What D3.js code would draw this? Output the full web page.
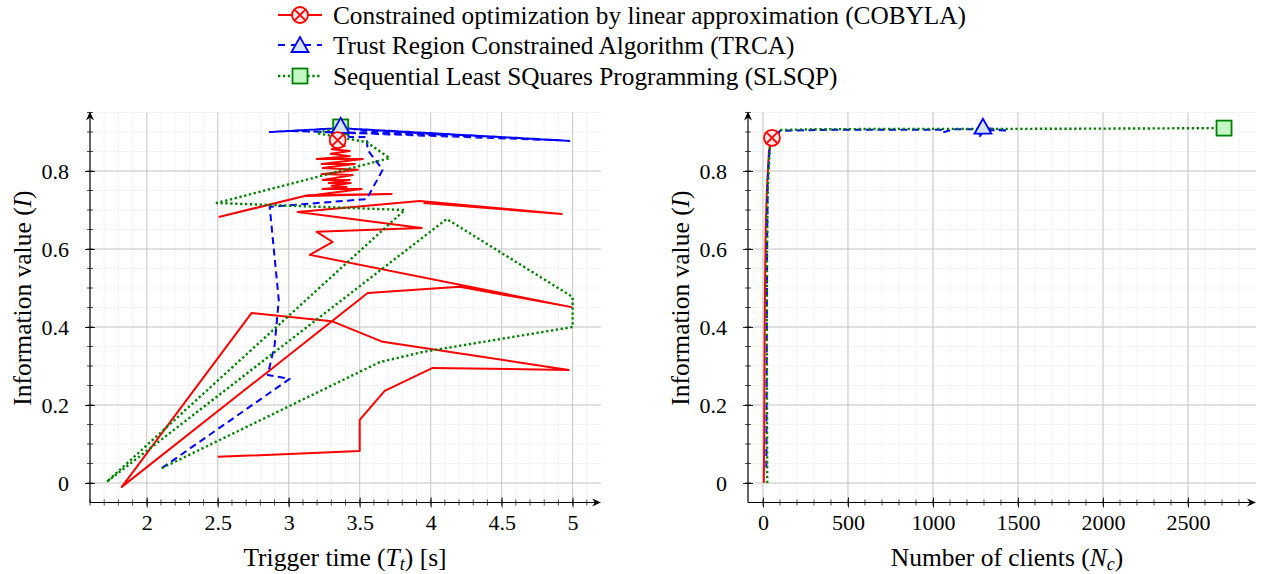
<!DOCTYPE html>
<html>
<head>
<meta charset="utf-8">
<title>Optimizer trajectories</title>
<style>
  body { margin: 0; background: #fff; }
  svg { display: block; font-family: "Liberation Serif", "DejaVu Serif", serif; }
  .axis-title { font-size: 25.5px; fill: #000; }
  .legend text { font-size: 25.3px; fill: #000; }
</style>
</head>
<body>
<script src="https://cdn.jsdelivr.net/npm/d3@7/dist/d3.min.js"></script>
<script>
// ---- data ----
var seriesNames = [
  "Constrained optimization by linear approximation (COBYLA)",
  "Trust Region Constrained Algorithm (TRCA)",
  "Sequential Least SQuares Programming (SLSQP)"
];

// left panel: trigger time vs information value (NaN = break in the trace)
var cobylaTt = [2.50, 3.50, 3.50, 3.676, 4.014, 4.972, 3.662, 3.303, 2.739, 1.824, 3.556, 4.204, 4.993,
  3.148, 3.310, 3.197, 3.937, 3.063, 3.923, 4.923, 3.95, NaN,
  2.507, 3.134, 3.725, 3.127, 3.514, 3.239, 3.408, 3.303, 3.437, 3.282, 3.430, 3.239, 3.451, 3.232,
  3.486, 3.239, 3.465, 3.232, 3.521, 3.197, 3.430, 3.296, 3.430, 3.303, 3.394, 3.324, 3.345];
var cobylaI = [0.067, 0.082, 0.162, 0.236, 0.295, 0.290, 0.362, 0.415, 0.436, -0.010, 0.487, 0.503, 0.451,
  0.585, 0.618, 0.644, 0.654, 0.695, 0.723, 0.690, 0.718, NaN,
  0.682, 0.738, 0.741, 0.736, 0.754, 0.754, 0.759, 0.762, 0.769, 0.769, 0.777, 0.777, 0.790, 0.792,
  0.803, 0.808, 0.818, 0.818, 0.831, 0.831, 0.838, 0.844, 0.851, 0.856, 0.864, 0.869, 0.879];

var trcaTt = [2.106, 3.007, 2.852, 2.901, 2.930, 2.866, 3.549, 3.662, 3.556, 3.549, 3.430,
  3.359, 4.993, 3.359, 2.866, 3.359, 4.50, 3.00, 4.95, 3.60, 4.08, 3.52, 3.366];
var trcaI = [0.038, 0.267, 0.277, 0.354, 0.469, 0.708, 0.728, 0.803, 0.854, 0.887, 0.887,
  0.910, 0.877, 0.910, 0.900, 0.910, 0.887, 0.903, 0.878, 0.905, 0.893, 0.903, 0.913];

var slsqpTt = [2.106, 3.641, 3.944, 5.000, 5.000, 4.113, 1.718, 3.817, 2.493, 3.711, 3.549, 3.197, 3.366];
var slsqpI = [0.038, 0.310, 0.336, 0.400, 0.477, 0.677, 0.003, 0.700, 0.718, 0.833, 0.874, 0.897, 0.913];

// right panel: number of clients vs information value
var cobylaNc = [5, 7, 9, 12, 16, 23, 35, 53];
var cobylaNcI = [0.0, 0.1, 0.3, 0.5, 0.65, 0.75, 0.85, 0.885];

var trcaNc = [20, 22, 24, 28, 40, 100, 400, 900, 1053, 1053, 1118, 1270, 1270, 1300, 1441, 1406, 1294];
var trcaNcI = [0.04, 0.3, 0.6, 0.78, 0.86, 0.903, 0.906, 0.906, 0.906, 0.898, 0.907, 0.907, 0.885, 0.905, 0.904, 0.905, 0.911];

var slsqpNc = [25, 24, 23, 24, 28, 41, 60, 100, 300, 800, 1500, 2200, 2712];
var slsqpNcI = [0.0, 0.15, 0.4, 0.6, 0.75, 0.87, 0.895, 0.905, 0.907, 0.908, 0.908, 0.909, 0.910];

var ttTicks = [2, 2.5, 3, 3.5, 4, 4.5, 5];
var ncTicks = [0, 500, 1000, 1500, 2000, 2500];
var infoTicks = [0, 0.2, 0.4, 0.6, 0.8];

var colors = ["#ff0000", "#0000ff", "#008000"];

var width = 1261, height = 574;
var svg = d3.select("body").append("svg")
  .attr("width", width)
  .attr("height", height);

var y = d3.scaleLinear().domain([-0.05, 0.95]).range([502.5, 112.5]);
var xLeft = d3.scaleLinear().domain([1.6, 5.2]).range([90, 601]);
var xRight = d3.scaleLinear().domain([-88, 2900]).range([748, 1256]);

function zip(a, b) {
  return a.map(function(d, i) { return [d, b[i]]; });
}

function styleTicks(sel) {
  sel.attr("font-family", null).attr("font-size", null);
  sel.select(".domain").remove();
  sel.selectAll(".tick text")
    .style("font-family", "'Liberation Serif', serif")
    .style("font-size", "22px")
    .attr("fill", "#000");
}

function drawFrame(x, majorX, minorStep) {
  var g = svg.append("g");
  var x0 = x.range()[0], x1 = x.range()[1];
  var y0 = y.range()[0], y1 = y.range()[1];
  var d = x.domain();
  var minorX = d3.range(Math.ceil(d[0] / minorStep) * minorStep, d[1], minorStep);
  var minorY = d3.range(-0.05, 0.951, 0.05);

  // minor grid
  g.selectAll(".mgx").data(minorX).join("line")
    .attr("x1", x).attr("x2", x).attr("y1", y0).attr("y2", y1)
    .attr("stroke", "#f0f0f0").attr("stroke-width", 0.8);
  g.selectAll(".mgy").data(minorY).join("line")
    .attr("x1", x0).attr("x2", x1).attr("y1", y).attr("y2", y)
    .attr("stroke", "#f0f0f0").attr("stroke-width", 0.8);
  // major grid
  g.selectAll(".gx").data(majorX).join("line")
    .attr("x1", x).attr("x2", x).attr("y1", y0).attr("y2", y1)
    .attr("stroke", "#c8c8c8").attr("stroke-width", 1);
  g.selectAll(".gy").data(infoTicks).join("line")
    .attr("x1", x0).attr("x2", x1).attr("y1", y).attr("y2", y)
    .attr("stroke", "#c8c8c8").attr("stroke-width", 1);

  // minor ticks
  g.selectAll(".mtx").data(minorX).join("line")
    .attr("x1", x).attr("x2", x).attr("y1", y0 - 3).attr("y2", y0 + 3)
    .attr("stroke", "#000").attr("stroke-width", 0.7);
  g.selectAll(".mty").data(minorY.filter(function(v) { return v > -0.04; })).join("line")
    .attr("x1", x0 - 3).attr("x2", x0 + 3).attr("y1", y).attr("y2", y)
    .attr("stroke", "#000").attr("stroke-width", 0.7);

  // axes
  var ax = g.append("g").attr("transform", "translate(0," + y0 + ")")
    .call(d3.axisBottom(x).tickValues(majorX).tickSize(5).tickPadding(7)
      .tickFormat(function(v) { return String(v); }));
  styleTicks(ax);
  ax.selectAll(".tick line").attr("y1", -5).attr("stroke-width", 0.9);

  var ay = g.append("g").attr("transform", "translate(" + x0 + ",0)")
    .call(d3.axisLeft(y).tickValues(infoTicks).tickSize(5).tickPadding(16)
      .tickFormat(function(v) { return String(v); }));
  styleTicks(ay);
  ay.selectAll(".tick line").attr("x1", 5).attr("stroke-width", 0.9);

  g.append("line").attr("x1", x0).attr("x2", x1 - 4).attr("y1", y0).attr("y2", y0)
    .attr("stroke", "#000").attr("stroke-width", 1.2);
  g.append("line").attr("x1", x0).attr("x2", x0).attr("y1", y0).attr("y2", y1 + 4)
    .attr("stroke", "#000").attr("stroke-width", 1.2);
  g.append("path")
    .attr("d", "M" + x1 + "," + y0 + " l-9,-4 l3,4 l-3,4 z").attr("fill", "#000");
  g.append("path")
    .attr("d", "M" + x0 + "," + (y1 - 1) + " l-4,9 l4,-3 l4,3 z").attr("fill", "#000");
  return g;
}

function crossMark(g, cx, cy) {
  g.append("circle").attr("cx", cx).attr("cy", cy).attr("r", 8)
    .attr("fill", "#ffe8e8").attr("stroke", colors[0]).attr("stroke-width", 1.8);
  var k = 5.66;
  g.append("path")
    .attr("d", "M" + (cx - k) + "," + (cy - k) + "L" + (cx + k) + "," + (cy + k) +
      "M" + (cx - k) + "," + (cy + k) + "L" + (cx + k) + "," + (cy - k))
    .attr("stroke", colors[0]).attr("stroke-width", 1.8);
}
function triMark(g, cx, cy) {
  g.append("path")
    .attr("d", "M" + cx + "," + (cy - 9) + "L" + (cx - 8.5) + "," + (cy + 6) + "L" + (cx + 8.5) + "," + (cy + 6) + "Z")
    .attr("fill", "#d6e4f7").attr("stroke", colors[1]).attr("stroke-width", 1.8);
}
function squareMark(g, cx, cy) {
  g.append("rect").attr("x", cx - 7.5).attr("y", cy - 7.5).attr("width", 15).attr("height", 15)
    .attr("fill", "#c4f5c4").attr("stroke", colors[2]).attr("stroke-width", 1.8);
}

var styles = [
  { dash: null, width: 2 },
  { dash: "7,4.5", width: 2 },
  { dash: "2.3,2.6", width: 2.4 }
];

function drawPanel(x, traces) {
  var g = svg.append("g");
  var line = d3.line()
    .defined(function(d) { return !isNaN(d[0]); })
    .x(function(d) { return x(d[0]); })
    .y(function(d) { return y(d[1]); });
  traces.forEach(function(t, i) {
    g.append("path").datum(t)
      .attr("d", line)
      .attr("fill", "none")
      .attr("stroke", colors[i])
      .attr("stroke-width", styles[i].width)
      .attr("stroke-dasharray", styles[i].dash)
      .attr("stroke-linejoin", "round");
  });
  var last = traces.map(function(t) { return t[t.length - 1]; });
  squareMark(g, x(last[2][0]), y(last[2][1]));
  triMark(g, x(last[1][0]), y(last[1][1]));
  crossMark(g, x(last[0][0]), y(last[0][1]));
}

drawFrame(xLeft, ttTicks, 0.1);
drawFrame(xRight, ncTicks, 100);

drawPanel(xLeft, [zip(cobylaTt, cobylaI), zip(trcaTt, trcaI), zip(slsqpTt, slsqpI)]);
drawPanel(xRight, [zip(cobylaNc, cobylaNcI), zip(trcaNc, trcaNcI), zip(slsqpNc, slsqpNcI)]);

// axis titles
function yTitle(cx) {
  var t = svg.append("text").attr("class", "axis-title")
    .attr("transform", "translate(" + cx + "," + 298 + ") rotate(-90)")
    .attr("text-anchor", "middle").attr("dominant-baseline", "central");
  t.append("tspan").text("Information value (");
  t.append("tspan").attr("font-style", "italic").text("I");
  t.append("tspan").text(")");
}
yTitle(22);
yTitle(680);

var tx = svg.append("text").attr("class", "axis-title")
  .attr("x", 345).attr("y", 566).attr("text-anchor", "middle");
tx.append("tspan").text("Trigger time (");
tx.append("tspan").attr("font-style", "italic").text("T");
tx.append("tspan").attr("font-style", "italic").attr("font-size", 18).attr("dy", 4).text("t");
tx.append("tspan").attr("dy", -4).text(") [s]");

var nx = svg.append("text").attr("class", "axis-title")
  .attr("x", 1007).attr("y", 566).attr("text-anchor", "middle");
nx.append("tspan").text("Number of clients (");
nx.append("tspan").attr("font-style", "italic").text("N");
nx.append("tspan").attr("font-style", "italic").attr("font-size", 18).attr("dy", 4).text("c");
nx.append("tspan").attr("dy", -4).text(")");

// legend
var legend = svg.append("g").attr("class", "legend");
var rows = [15, 45, 76];
seriesNames.forEach(function(name, i) {
  var ly = rows[i];
  legend.append("line").attr("x1", 278).attr("x2", 322).attr("y1", ly).attr("y2", ly)
    .attr("stroke", colors[i]).attr("stroke-width", styles[i].width)
    .attr("stroke-dasharray", i === 1 ? "7,6" : styles[i].dash);
  if (i === 0) crossMark(legend, 300, ly);
  if (i === 1) triMark(legend, 300, ly + 1);
  if (i === 2) squareMark(legend, 300, ly);
  legend.append("text").attr("x", 333).attr("y", ly).attr("dy", "0.35em").text(name);
});
</script>
</body>
</html>
